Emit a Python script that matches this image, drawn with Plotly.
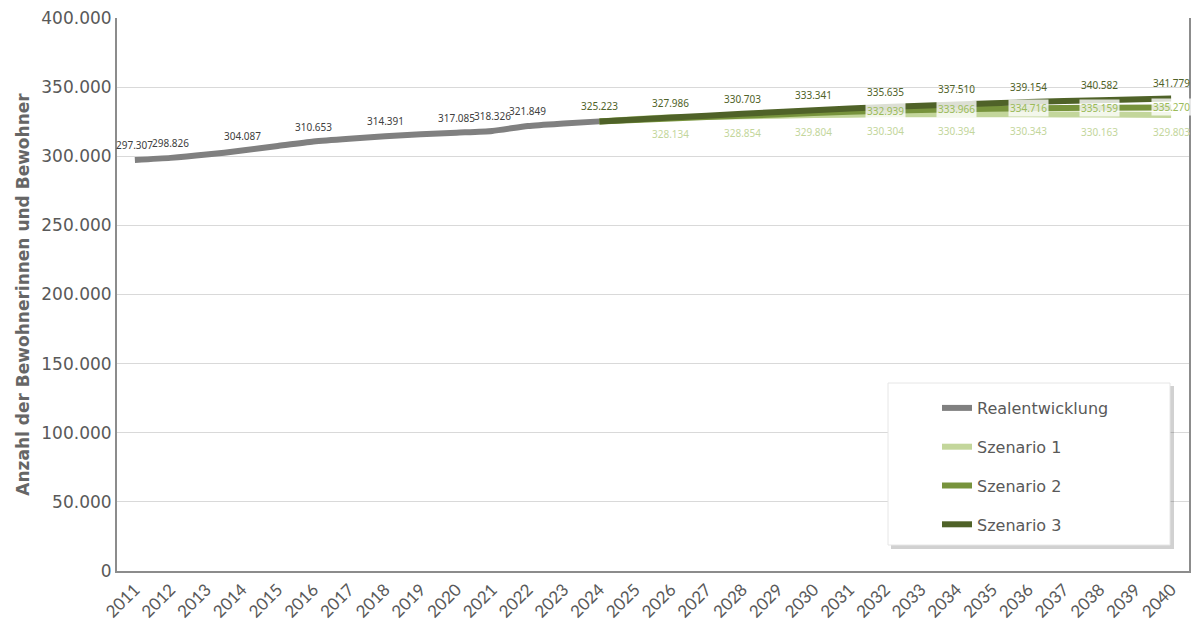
import plotly.graph_objects as go

years = [str(y) for y in range(2011, 2041)]

# Realentwicklung (2011-2024)
real_years = [str(y) for y in range(2011, 2025)]
real_values = [297307, 298826, 301200, 304087, 307400, 310653, 312700, 314391,
               315900, 317085, 318326, 321849, 323700, 325223]
real_labeled = ["2011", "2012", "2014", "2016", "2018", "2020", "2021", "2022"]

# Szenarien (2024-2040, every second year)
scen_years = [str(y) for y in range(2024, 2041, 2)]
s1_values = [325223, 328134, 328854, 329804, 330304, 330394, 330343, 330163, 329803]
s2_values = [325223, 327300, 329300, 331200, 332939, 333966, 334716, 335159, 335270]
s3_values = [325223, 327986, 330703, 333341, 335635, 337510, 339154, 340582, 341779]
s1_labeled = scen_years[1:]
s2_labeled = ["2032", "2034", "2036", "2038", "2040"]
s3_labeled = scen_years

y_ticks = [0, 50000, 100000, 150000, 200000, 250000, 300000, 350000, 400000]


def de(v):
    return f"{v:,.0f}".replace(",", ".")


GRAY = "#808080"
C1 = "#c3d69b"
C2 = "#77933c"
C3 = "#4f6228"
LABEL_FONT = "Noto Sans"

fig = go.Figure()

fig.add_trace(go.Scatter(
    x=real_years, y=real_values, name="Realentwicklung", legendgroup="a",
    mode="lines", line=dict(color=GRAY, width=6, shape="spline", smoothing=0.6),
))
fig.add_trace(go.Scatter(
    x=scen_years, y=s1_values, name="Szenario 1", legendgroup="b",
    mode="lines", line=dict(color=C1, width=6, shape="spline", smoothing=0.6),
))
fig.add_trace(go.Scatter(
    x=scen_years, y=s2_values, name="Szenario 2", legendgroup="c",
    mode="lines", line=dict(color=C2, width=6, shape="spline", smoothing=0.6),
))
fig.add_trace(go.Scatter(
    x=scen_years, y=s3_values, name="Szenario 3", legendgroup="d",
    mode="lines", line=dict(color=C3, width=6, shape="spline", smoothing=0.6),
))

annotations = []


def add_labels(xs, vs, labeled, color, yshift, bg=None):
    for x, v in zip(xs, vs):
        if x in labeled:
            a = dict(x=years.index(x), y=v, xref="x", yref="y", text=de(v),
                     showarrow=False, yshift=yshift,
                     font=dict(family=LABEL_FONT, size=10, color=color))
            if bg:
                a.update(bgcolor=bg, borderpad=1)
            annotations.append(a)


add_labels(real_years, real_values, real_labeled, "#404040", 15)
add_labels(scen_years, s1_values, s1_labeled, C1, -17)
add_labels(scen_years, s2_values, s2_labeled, "#9bbb59", 0, "rgba(255,255,255,0.8)")
add_labels(scen_years, s3_values, s3_labeled, C3, 15)

L, R, T, B = 117, 8, 18, 57
W, H = 1197, 628
pw, ph = W - L - R, H - T - B


def px_x(p):
    return (p - L) / pw


def px_y(p):
    return (H - B - p) / ph


shapes = [
    # legend shadow
    dict(type="rect", xref="paper", yref="paper",
         x0=px_x(891), x1=px_x(1174), y0=px_y(549), y1=px_y(386),
         fillcolor="rgba(0,0,0,0.18)", line=dict(width=0), layer="above"),
    # legend box
    dict(type="rect", xref="paper", yref="paper",
         x0=px_x(888), x1=px_x(1170), y0=px_y(545), y1=px_y(383),
         fillcolor="white", line=dict(color="#e6e6e6", width=1), layer="above"),
]

fig.update_layout(
    width=W, height=H,
    margin=dict(l=L, r=R, t=T, b=B, autoexpand=False),
    paper_bgcolor="white", plot_bgcolor="white",
    separators=",.",
    font=dict(family="DejaVu Sans", color="#595959"),
    showlegend=True,
    legend=dict(
        x=px_x(937), y=px_y(391), xanchor="left", yanchor="top",
        bgcolor="rgba(0,0,0,0)", borderwidth=0,
        font=dict(family="DejaVu Sans", size=16, color="#595959"),
        tracegroupgap=15, itemwidth=30,
    ),
    xaxis=dict(
        type="category", categoryorder="array", categoryarray=years,
        tickvals=years, ticktext=years, tickangle=-45, automargin=False,
        tickfont=dict(family="Lato", size=17, color="#595959"),
        showgrid=False, showline=True, linecolor="#8c8c8c", linewidth=2,
        ticks="", range=[-0.5, 29.5],
    ),
    yaxis=dict(
        range=[0, 400000], tickvals=y_ticks, tickformat=",.0f", automargin=False,
        tickfont=dict(family="DejaVu Sans", size=17, color="#595959"),
        showgrid=True, gridcolor="#d9d9d9", gridwidth=1,
        showline=True, mirror=True, linecolor="#8c8c8c", linewidth=2,
        ticks="", zeroline=False,
        title=dict(text="<b>Anzahl der Bewohnerinnen und Bewohner</b>",
                   font=dict(family="DejaVu Sans", size=17, color="#666666"),
                   standoff=7),
    ),
    shapes=shapes,
    annotations=annotations,
)

fig.write_html("out.html")
